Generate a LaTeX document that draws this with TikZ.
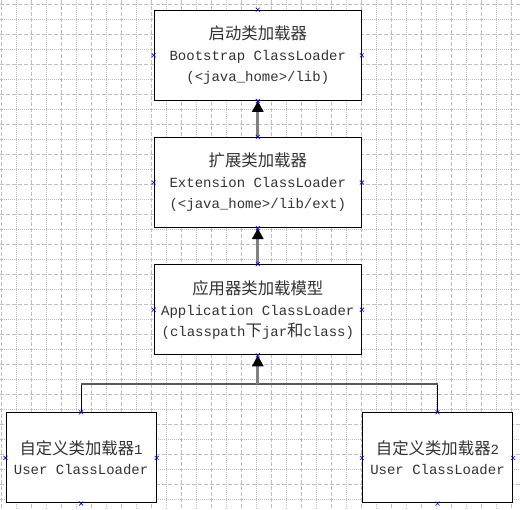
\documentclass[tikz,border=0pt]{standalone}
\usepackage{fontspec}
\setmainfont{Liberation Mono}
\newfontfamily\cjk{Noto Sans CJK SC}[Scale=1.17]
\usepackage{tikz}
\usetikzlibrary{positioning,arrows.meta}

\begin{document}
\begin{tikzpicture}[x=1pt,y=-1pt,node distance=36pt,
    box/.style={draw,line width=1.2pt,fill=white,minimum width=207pt,minimum height=90pt,
      inner sep=0pt,align=center,text=black!80,font=\fontsize{14}{21}\selectfont},
    ubox/.style={box,minimum width=150pt,font=\fontsize{14}{20}\selectfont},
    conn/.style={draw=black!50,line width=3pt,-{Triangle[length=11pt,width=11pt,black]}},
    bus/.style={draw=black!65,line width=2pt},
    major/.style={black!25,line width=0.8pt,dash pattern=on 4pt off 2pt},
    minor/.style={black!25,line width=0.8pt,dash pattern=on 1pt off 1pt},
    xmark/.style={draw=blue,line width=0.6pt}]
  \useasboundingbox[fill=white] (0,0) rectangle (520,510);
  % grid
  \foreach \i in {0,...,17} {
    \draw[major] (1.7+30*\i,0) -- ++(0,510);
    \draw[minor] (16.7+30*\i,0) -- ++(0,510);
  }
  \foreach \i in {0,...,16} {
    \draw[major] (0,4.3+30*\i) -- ++(520,0);
    \draw[minor] (0,19.3+30*\i) -- ++(520,0);
  }
  \node[box] (boot) at (257.8,55.3) {{\cjk 启动类加载器}\\Bootstrap ClassLoader\\(<java\_home>/lib)};
  \node[box,below=of boot] (ext) {{\cjk 扩展类加载器}\\Extension ClassLoader\\(<java\_home>/lib/ext)};
  \node[box,below=of ext] (app) {{\cjk 应用器类加载模型}\\Application ClassLoader\\(classpath{\cjk 下}jar{\cjk 和}class)};
  \node[ubox,below left=57pt and -3pt of app.south west] (usr1) {{\cjk 自定义类加载器}1\\User ClassLoader};
  \node[ubox,below right=57pt and 0pt of app.south east] (usr2) {{\cjk 自定义类加载器}2\\User ClassLoader};
  \coordinate[below=29pt of app.south] (fork);
  \path[conn] (ext) edge (boot)
    (app) edge (ext);
  \draw (usr1.north) -- (usr1.north |- fork);
  \draw (usr2.north) -- (usr2.north |- fork);
  \draw[bus] (usr1.north |- fork) -- (usr2.north |- fork);
  \draw[conn] (fork) -- (app);
  \foreach \n in {boot,ext,app,usr1,usr2}
    \foreach \a in {north,south,east,west}
      \draw[xmark,shift={(\n.\a)}] (-2,-2) -- (2,2) (-2,2) -- (2,-2);
\end{tikzpicture}
\end{document}
